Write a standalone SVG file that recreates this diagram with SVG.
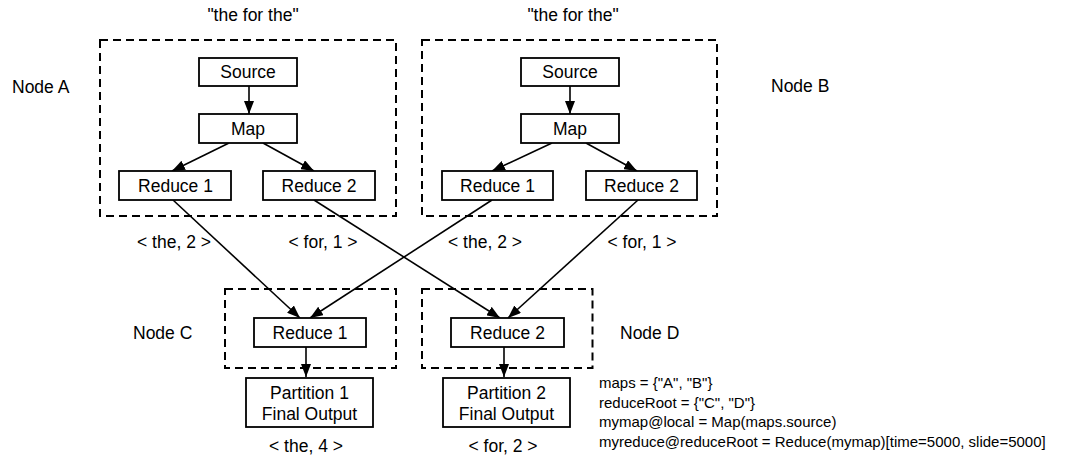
<svg xmlns="http://www.w3.org/2000/svg" width="1086" height="456" viewBox="0 0 1086 456">
<style>
text{font-family:"Liberation Sans",Arial,sans-serif;font-size:17.5px;fill:#000}
.c{text-anchor:middle}
.code{font-size:15px}
.box{fill:#fff;stroke:#000;stroke-width:1.8}
.grp{fill:none;stroke:#000;stroke-width:2;stroke-dasharray:8 5}
.ln{fill:none;stroke:#000;stroke-width:1.6;marker-end:url(#ah)}
</style>
<defs>
<marker id="ah" viewBox="0 0 13 10" refX="13" refY="5" markerWidth="13" markerHeight="10" markerUnits="userSpaceOnUse" orient="auto">
<path d="M0,0 L13,5 L0,10 z" fill="#000"/>
</marker>
</defs>
<rect width="1086" height="456" fill="#fff"/>
<g id="groups">
<rect class="grp" x="100" y="40" width="296" height="176"/>
<rect class="grp" x="422" y="40" width="295" height="176"/>
<rect class="grp" x="225" y="289" width="171" height="79"/>
<rect class="grp" x="422" y="289" width="170.5" height="79"/>
</g>
<g id="labels">
<text class="c" x="253" y="21">"the for the"</text>
<text class="c" x="573" y="21">"the for the"</text>
<text x="12" y="93">Node A</text>
<text x="771" y="92">Node B</text>
<text x="133" y="339">Node C</text>
<text x="620" y="339">Node D</text>
<text class="c" x="174" y="248">&lt; the, 2 &gt;</text>
<text class="c" x="323" y="248">&lt; for, 1 &gt;</text>
<text class="c" x="485" y="248">&lt; the, 2 &gt;</text>
<text class="c" x="642" y="248">&lt; for, 1 &gt;</text>
<text class="c" x="306" y="452">&lt; the, 4 &gt;</text>
<text class="c" x="503" y="452">&lt; for, 2 &gt;</text>
</g>
<g id="connectors">
<path class="ln" d="M249,86 L249,114"/>
<path class="ln" d="M229,143 L172,171"/>
<path class="ln" d="M263,143 L314,171"/>
<path class="ln" d="M570,86 L570,114"/>
<path class="ln" d="M552,143 L492,171"/>
<path class="ln" d="M586,143 L637,171"/>
<path class="ln" d="M173,200 L300,318"/>
<path class="ln" d="M314,200 L500,318"/>
<path class="ln" d="M492,200 L310,318"/>
<path class="ln" d="M638,200 L508,318"/>
<path class="ln" d="M306,347 L306,377"/>
<path class="ln" d="M504,347 L504,377"/>
</g>
<g id="sourceA"><rect class="box" x="199" y="58" width="98" height="28"/><text class="c" x="248" y="78">Source</text></g>
<g id="mapA"><rect class="box" x="199" y="114" width="98" height="29"/><text class="c" x="248" y="134.5">Map</text></g>
<g id="reduce1A"><rect class="box" x="119" y="171" width="112" height="29"/><text class="c" x="175.5" y="191.5">Reduce 1</text></g>
<g id="reduce2A"><rect class="box" x="263" y="171" width="112" height="29"/><text class="c" x="319" y="191.5">Reduce 2</text></g>
<g id="sourceB"><rect class="box" x="521" y="58" width="98" height="28"/><text class="c" x="570" y="78">Source</text></g>
<g id="mapB"><rect class="box" x="521" y="114" width="98" height="29"/><text class="c" x="570" y="134.5">Map</text></g>
<g id="reduce1B"><rect class="box" x="442" y="171" width="111" height="29"/><text class="c" x="497.5" y="191.5">Reduce 1</text></g>
<g id="reduce2B"><rect class="box" x="586" y="171" width="111" height="29"/><text class="c" x="641.5" y="191.5">Reduce 2</text></g>
<g id="reduce1C"><rect class="box" x="254" y="318" width="112" height="29"/><text class="c" x="310" y="338.5">Reduce 1</text></g>
<g id="reduce2D"><rect class="box" x="451" y="318" width="113" height="29"/><text class="c" x="507.5" y="338.5">Reduce 2</text></g>
<g id="partition1"><rect class="box" x="246" y="378" width="127" height="49"/><text class="c" x="309.5" y="399">Partition 1</text><text class="c" x="309.5" y="419.5">Final Output</text></g>
<g id="partition2"><rect class="box" x="443" y="378" width="127" height="49"/><text class="c" x="506.5" y="399">Partition 2</text><text class="c" x="506.5" y="419.5">Final Output</text></g>
<g id="code">
<text class="code" x="599" y="388">maps = {"A", "B"}</text>
<text class="code" x="599" y="407.5">reduceRoot = {"C", "D"}</text>
<text class="code" x="599" y="427">mymap@local = Map(maps.source)</text>
<text class="code" x="599" y="446.5">myreduce@reduceRoot = Reduce(mymap)[time=5000, slide=5000]</text>
</g>
</svg>
